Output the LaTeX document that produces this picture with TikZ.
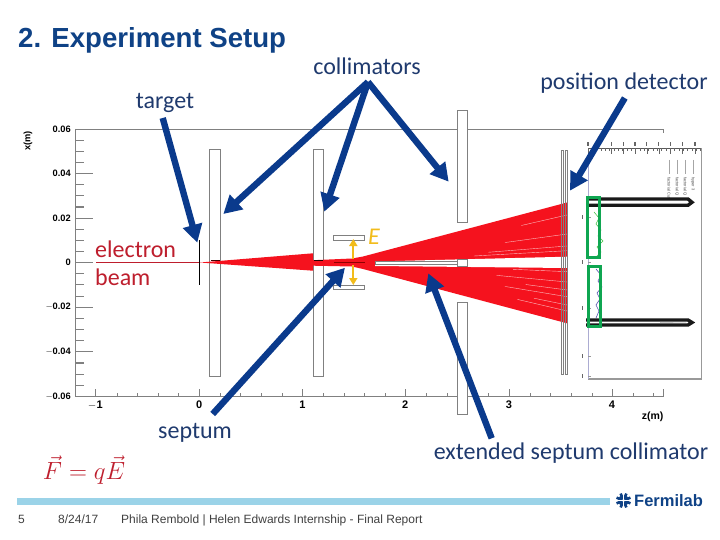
\documentclass[tikz,border=0pt]{standalone}
\usepackage{fontspec}
\setmainfont{Liberation Sans}
\newfontfamily\lblfont{Carlito}
\usetikzlibrary{arrows.meta}
\definecolor{navy}{HTML}{1F3A6E}
\definecolor{arrowblue}{HTML}{0A3A8C}
\definecolor{titleblue}{HTML}{0F4286}
\definecolor{beamred}{HTML}{F5121E}
\definecolor{redtext}{HTML}{BE1E2D}
\definecolor{goldy}{HTML}{F2BC1B}
\definecolor{greenbox}{HTML}{0FA651}
\definecolor{barblue}{HTML}{9BD3E8}
\definecolor{axisgray}{HTML}{808080}
\definecolor{footgray}{HTML}{404040}
\tikzset{
  callout/.style={draw=arrowblue,line width=6.4pt,-{Triangle[length=18pt,width=19pt]},shorten >=0pt},
  lbl/.style={font=\lblfont\fontsize{24}{26}\selectfont,text=navy,inner sep=0pt},
  ticklbl/.style={font=\bfseries\fontsize{9.3}{11}\selectfont,text=black,inner sep=0pt},
  axisline/.style={draw=axisgray,line width=0.7pt},
  wall/.style={draw=gray,line width=0.8pt,fill=white},
  ybolt/.style={draw=goldy,line width=2.2pt,-{Triangle[length=7pt,width=8pt]}},
  tinytxt/.style={font=\fontsize{4}{4}\selectfont,text=black!70,inner sep=0pt,rotate=-90,anchor=west},
  foottxt/.style={anchor=base west,inner sep=0pt,text=footgray,font=\fontsize{12}{14}\selectfont},
}
\begin{document}
\begin{tikzpicture}[x=1pt,y=-1pt]
\useasboundingbox (0,0) rectangle (720,540);
\fill[white] (0,0) rectangle (720,540);
% axes
\draw[axisline] (75.5,129) -- (663,129) -- (663,133);
\draw[axisline] (75.5,129) -- (75.5,396.7) -- (663,396.7) -- (663,388.5);
\foreach \v/\t in {129/0.06,173.5/0.04,218/0.02,262.5/0,307/{$-$0.02},351.7/{$-$0.04},396.7/{$-$0.06}}{
  \draw[axisline] (75.5,\v) -- (93,\v);
  \node[ticklbl,anchor=east] at (71,\v) {\t};
}
\foreach \v in {140.1,151.2,162.4,184.6,195.8,206.9,229.1,240.2,251.4,273.6,284.8,295.9,318.1,329.2,340.5,362.9,374.1,385.5}{
  \draw[axisline] (75.5,\v) -- (84,\v);
}
\foreach \v in {151.2,195.8,206.9,362.9}{\draw[axisline,line width=1.2pt] (75.5,\v) -- (84,\v);}
\draw[axisline,line width=1.2pt] (75.5,351.7) -- (93,351.7);
\foreach \v/\t in {95.3/$-$1,199.3/0,302.5/1,405.3/2,509/3,612/4}{
  \draw[axisline] (\v,396.7) -- (\v,388.5);
  \node[ticklbl,font=\bfseries\fontsize{11}{12}\selectfont] at (\v,405) {\t};
}
\foreach \v in {117,137,158.5,178.5,220,240,261,282,323,344,364,385,426,447,467,488,530,550,571,592,633,653}{
  \draw[axisline] (\v,396.7) -- (\v,393);
}
\node[ticklbl,font=\bfseries\fontsize{10.5}{12}\selectfont] (zlabel) at (652.7,417) {z(m)};
\node[ticklbl,rotate=90] (xlabel) at (28,141) {x(m)};
% collimators
\draw[wall] (209.5,149.5) rectangle (220.5,376.2);
\draw[wall] (313.3,149.5) rectangle (323.7,376.2);
\draw[wall] (457.3,110.7) rectangle (467.7,222.7);
\draw[wall] (457.3,302) rectangle (467.7,414.3);
% septum plates
\draw[wall] (333.3,235.3) rectangle (364.7,240.3);
\draw[wall] (333.3,285) rectangle (364.7,289.7);
% beam
\draw[redtext,line width=1pt] (96,262.5) -- (200,262.5);
\fill[beamred] (200,262.5) -- (313,253.3) -- (313,270.7) -- cycle;
\fill[beamred] (313,260.2) -- (352,258.5) -- (363,256.5) -- (567,202.5) -- (567,323.3) -- (363,269) -- (352,266.5) -- (313,265.7) -- cycle;
\fill[white] (375,261.5) -- (567,256.7) -- (567,268) -- (375,266) -- cycle;
\foreach \e/\f in {215/0.78,234/0.7,246/0.62,250.7/0.55,271.7/0.74,282/0.66,290/0.8,296.7/0.7,305/0.84,311/0.76}{
  \pgfmathsetmacro{\m}{262.5+(\e-262.5)*\f}
  \pgfmathsetmacro{\n}{360+207*\f}
  \draw[white,line width=0.4pt,opacity=0.7] (\n,\m) -- (567,\e);
}
\draw[white,line width=0.5pt,dash pattern=on 14pt off 2pt] (440,233.5) -- (567,200.5);
\draw[white,line width=0.5pt,dash pattern=on 14pt off 2pt] (440,293) -- (567,325);
% dark septum lines and slit
\draw[black!75!red,line width=1pt] (210.5,260.4) -- (220,260.4);
\draw[black!85!red,line width=0.8pt] (314,260.4) -- (323,260.4);
\draw[black!20!red!70!black,line width=1.5pt] (334,262.6) -- (364.5,262.6);
\draw[gray,line width=0.8pt,fill=white] (375,261.6) -- (457.3,261.6) -- (457.3,264.2) -- (375,264.2) -- cycle;
\draw[wall] (457.3,259.7) rectangle (467.7,266.3);
% target
\draw[black,line width=0.8pt] (199.3,240) -- (199.3,285);
% field arrows
\coordinate (fieldmid1) at (353.3,258.5);
\coordinate (fieldtop) at (353.3,239);
\coordinate (fieldmid2) at (353.3,265);
\coordinate (fieldbot) at (353.3,285);
\draw[ybolt] (fieldmid1) -- (fieldtop);
\draw[ybolt] (fieldmid2) -- (fieldbot);
\node[inner sep=0pt,text=goldy,font=\lblfont\itshape\fontsize{24}{26}\selectfont] (efield) at (374,237) {E};
% detector planes
\draw[gray,line width=0.5pt] (561,150) rectangle (563,374);
\draw[gray,line width=0.5pt] (565,150) rectangle (566.8,374);
% inset plot
\draw[black!65,line width=0.6pt] (588,148.3) -- (701.3,148.3);
\draw[gray!80,line width=1.4pt] (701.3,148.3) -- (701.3,379) -- (588,379);
\draw[blue!30!gray!50,line width=0.7pt] (588,148.3) -- (588,379);
\foreach \i in {0,...,26}{
  \draw[black!60,line width=0.4pt] ({588+\i*4.33},148.3) -- ({588+\i*4.33},151.5);
}
\foreach \v in {588,611.5,623.3,635,646.7,658.7,670.3,682.3,695}{
  \draw[black!60,line width=0.4pt] (\v,148.3) -- (\v,154);
  \fill[black!60] (\v-0.7,142.5) rectangle (\v+0.7,146.5);
}
\foreach \v in {217,262,308,356,376}{
  \fill[black!60] (581.5,\v-2) rectangle (583.2,\v+2);
  \draw[black!40,line width=0.4pt] (588,\v) -- (591,\v);
}
\foreach \v/\t in {669/factorial Cut,677/factorial Q,685/factorial Q,693/hyper 3}{
  \draw[gray!70,line width=0.5pt] (\v,160) -- (\v,174);
  \node[tinytxt] at (\v,177) {\t};
}
\draw[green!50!gray,line width=0.5pt] (594,212) -- (599,218) -- (596,224) -- (601,230) -- (598,236) -- (603,241) -- (597,247) -- (601,252) -- (596,257);
\draw[blue!35!gray,line width=0.6pt] (596,269) -- (601,275) -- (598,281) -- (602,287) -- (597,293) -- (600,299) -- (596,305) -- (599,311) -- (596,318);
\draw[gray!60,line width=0.5pt] (660,322.5) -- (686,322);
% U-shaped marks
\draw[black!90,line width=3.4pt,line join=miter] (588,199) -- (688,199) -- (692,202.3) -- (688,205.3) -- (589,205.3);
\draw[black!90,line width=3.4pt,line join=miter] (586,320) -- (688,320) -- (692,322.5) -- (688,325) -- (586,325);
% green boxes
\draw[greenbox,line width=3pt] (587,197.5) rectangle (599,257.3);
\draw[greenbox,line width=3pt] (588.8,266.5) rectangle (600.2,326);
% labels
\node[font=\bfseries\fontsize{27.6}{30}\selectfont,text=titleblue,anchor=west,inner sep=0pt] (title) at (18,40) {2. Experiment Setup};
\node[lbl] (target) at (165,102.5) {target};
\node[lbl] (coll) at (367,66) {collimators};
\node[lbl] (posdet) at (624,83) {position detector};
\node[lbl,text=redtext,anchor=west] (elec) at (95,249) {electron};
\node[lbl,text=redtext,anchor=west] (beam) at (95,277) {beam};
\node[lbl] (septum) at (195,433) {septum};
\node[lbl] (extsep) at (571,453) {extended septum collimator};
\node[inner sep=0pt,text=redtext,font=\fontsize{24}{26}\selectfont] (force) at (84,470) {$\vec{F}=q\vec{E}$};
% callouts
\coordinate (apex) at (368,82);
\coordinate (t1) at (162.7,118);
\coordinate (t1tip) at (197.3,242.7);
\coordinate (c1) at (223.3,214);
\coordinate (c2) at (324.3,211.7);
\coordinate (c3) at (448.7,181.7);
\coordinate (p0) at (624.8,98);
\coordinate (ptip) at (570,190.7);
\coordinate (s0) at (212.7,414);
\coordinate (stip) at (345,267.7);
\coordinate (x0) at (491.7,438.3);
\coordinate (xtip) at (428.3,273.3);
\draw[callout] (t1) -- (t1tip);
\draw[callout] (apex) -- (c1);
\draw[callout] (apex) -- (c2);
\draw[callout] (apex) -- (c3);
\draw[callout] (p0) -- (ptip);
\draw[callout] (s0) -- (stip);
\draw[callout] (x0) -- (xtip);
% footer
\fill[barblue] (17,498.3) rectangle (610,505);
\node[foottxt] (pageno) at (18,523.5) {5};
\node[foottxt] (datetxt) at (58,523.5) {8/24/17};
\node[foottxt] (foot) at (121,523.5) {Phila Rembold | Helen Edwards Internship - Final Report};
% Fermilab logo
\foreach \a in {0,45,...,315}{
  \draw[titleblue,line width=2.6pt] (623.5,500.5) -- ++(\a+22.5:7.5);
}
\fill[titleblue] (623.5,500.5) circle (5.5);
\fill[white] (623.5,500.5) circle (1.6);
\foreach \a in {0,90,180,270}{\draw[white,line width=0.8pt] (623.5,500.5) -- ++(\a:6);}
\node[anchor=west,inner sep=0pt,text=titleblue,font=\bfseries\fontsize{16.5}{18}\selectfont] (fermi) at (634,500.5) {Fermilab};
\end{tikzpicture}
\end{document}
